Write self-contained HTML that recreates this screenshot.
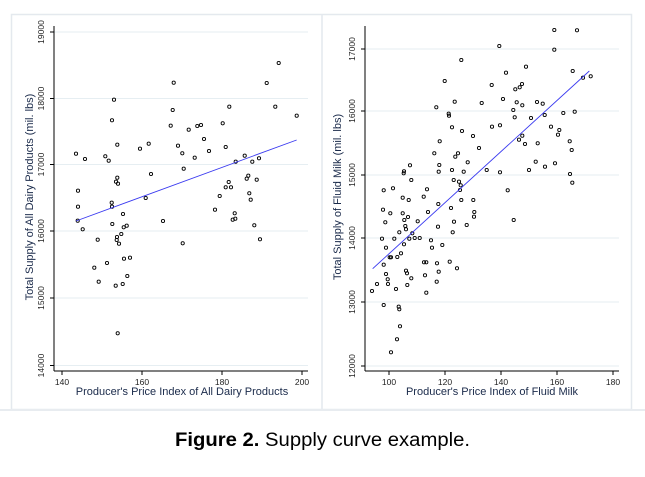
<!DOCTYPE html>
<html><head><meta charset="utf-8"><style>
html,body{margin:0;padding:0;background:#fff;}
svg{display:block;font-family:"Liberation Sans",Arial,sans-serif;}
</style></head><body>
<svg id="s" width="645" height="477" viewBox="0 0 645 477" xmlns="http://www.w3.org/2000/svg">
<rect x="11.5" y="14.5" width="620" height="395" fill="#fff" stroke="#e4e9ee" stroke-width="1.5"/>
<line x1="322" y1="14" x2="322" y2="410" stroke="#e4e9ee" stroke-width="1.5"/>
<line x1="0" y1="410" x2="645" y2="410" stroke="#e8ecf0" stroke-width="2"/>
<g id="g"></g>
<text x="175" y="446" font-size="19" textLength="295" lengthAdjust="spacingAndGlyphs"><tspan font-weight="bold">Figure 2.</tspan> Supply curve example.</text>
</svg>
<script>
var g=document.getElementById('g'),h='';
function ax(o){
  // gridlines and y ticks
  o.yt.forEach(function(t){
    h+='<line x1="'+o.x0+'" y1="'+t[1]+'" x2="'+o.x1+'" y2="'+t[1]+'" stroke="#e6eef2" stroke-width="1"/>';
    h+='<line x1="'+(o.x0-4)+'" y1="'+t[1]+'" x2="'+o.x0+'" y2="'+t[1]+'" stroke="#000" stroke-width="1"/>';
    h+='<text transform="translate('+(o.x0-10)+','+t[1]+') rotate(-90)" text-anchor="middle" font-size="8.5" fill="#222">'+t[0]+'</text>';
  });
  o.xt.forEach(function(t){
    h+='<line x1="'+t[1]+'" y1="'+o.yb+'" x2="'+t[1]+'" y2="'+(o.yb+4)+'" stroke="#000" stroke-width="1"/>';
    h+='<text x="'+t[1]+'" y="'+(o.yb+14)+'" text-anchor="middle" font-size="8.5" fill="#222">'+t[0]+'</text>';
  });
  h+='<line x1="'+o.x0+'" y1="'+o.yt0+'" x2="'+o.x0+'" y2="'+o.yb+'" stroke="#000" stroke-width="1"/>';
  h+='<line x1="'+o.x0+'" y1="'+o.yb+'" x2="'+o.x1+'" y2="'+o.yb+'" stroke="#000" stroke-width="1"/>';
  h+='<text x="'+o.xtc+'" y="'+(o.yb+24)+'" text-anchor="middle" font-size="11" fill="#1a2a4a">'+o.xtitle+'</text>';
  h+='<text transform="translate('+o.ytx+',197) rotate(-90)" text-anchor="middle" font-size="11" fill="#1a2a4a">'+o.ytitle+'</text>';
  o.pts.forEach(function(p){
    h+='<circle cx="'+(o.off+p[0]/3).toFixed(1)+'" cy="'+(p[1]/3).toFixed(1)+'" r="1.6" fill="none" stroke="#000" stroke-width="0.9"/>';
  });
  h+='<line x1="'+(o.off+o.ln[0]/3)+'" y1="'+(o.ln[1]/3)+'" x2="'+(o.off+o.ln[2]/3)+'" y2="'+(o.ln[3]/3)+'" stroke="#3a3af0" stroke-width="0.9"/>';
}
ax({x0:54,x1:308,yb:371,yt0:26,off:0,xtc:182,ytx:33,
 xtitle:"Producer's Price Index of All Dairy Products",ytitle:"Total Supply of All Dairy Products (mil. lbs)",
 yt:[[19000,32],[18000,98.5],[17000,164.5],[16000,231],[15000,298],[14000,365.5]],
 xt:[[140,62],[160,142],[180,222],[200,302]],
 ln:[228,663,890,420],
 pts:[[228,461],[234,572],[234,620],[233,662],[248,688],[255,477],[293,719],[283,803],[296,845],[316,469],[321,789],[326,482],[336,361],[342,299],[336,620],[335,608],[337,672],[348,545],[352,533],[354,551],[352,434],[369,642],[351,711],[350,720],[357,731],[364,702],[371,682],[380,677],[372,776],[390,773],[382,828],[368,852],[347,857],[353,1000],[420,446],[437,594],[446,431],[453,522],[489,663],[512,377],[518,330],[521,248],[534,437],[547,460],[551,506],[548,730],[566,389],[584,473],[592,378],[603,375],[612,417],[627,453],[645,629],[659,588],[668,370],[677,441],[677,562],[686,546],[688,320],[693,562],[698,659],[704,640],[706,656],[707,485],[734,467],[740,536],[745,527],[748,580],[752,599],[757,485],[763,676],[770,539],[777,475],[780,718],[800,249],[826,320],[836,189],[890,347]]});
ax({x0:365,x1:619,yb:371,yt0:26,off:322,xtc:492,ytx:341,
 xtitle:"Producer's Price Index of Fluid Milk",ytitle:"Total Supply of Fluid Milk (mil. lbs)",
 yt:[[17000,49],[16000,111],[15000,175],[14000,238],[13000,302],[12000,366]],
 xt:[[100,389],[120,445],[140,501],[160,557],[180,613]],
 ln:[152,806,802,213],
 pts:[[150,873],[165,852],[185,571],[183,629],[185,915],[190,667],[180,716],[192,743],[185,794],[192,822],[197,838],[198,852],[203,772],[205,640],[207,772],[213,565],[217,716],[222,867],[226,771],[230,920],[232,928],[234,979],[225,1018],[207,1057],[232,697],[237,760],[242,640],[242,593],[246,514],[245,520],[246,733],[247,660],[250,678],[252,812],[255,820],[256,855],[252,688],[258,651],[260,600],[262,716],[264,496],[268,540],[268,835],[271,700],[278,714],[287,664],[293,714],[305,590],[306,787],[309,826],[313,878],[315,568],[318,636],[313,787],[327,721],[330,743],[337,460],[345,790],[344,845],[350,815],[348,680],[349,612],[350,515],[352,495],[353,424],[361,735],[343,322],[368,243],[380,341],[381,347],[390,382],[383,785],[390,510],[387,624],[392,697],[395,540],[396,665],[398,305],[400,470],[405,805],[408,460],[411,545],[414,570],[416,556],[418,600],[420,393],[418,180],[425,515],[437,487],[434,675],[453,408],[454,600],[457,636],[456,650],[471,444],[479,309],[494,510],[509,255],[510,380],[532,138],[534,376],[534,517],[543,297],[552,218],[557,571],[574,330],[575,660],[578,352],[580,268],[584,307],[593,262],[600,252],[601,316],[601,407],[591,419],[609,432],[612,200],[621,510],[627,354],[641,485],[647,430],[645,306],[662,311],[668,345],[669,500],[687,380],[697,90],[699,490],[697,149],[708,404],[712,390],[724,339],[743,424],[744,522],[749,450],[751,548],[752,213],[758,335],[765,91],[783,233],[806,229]]});
g.innerHTML=h;
</script>
</body></html>
